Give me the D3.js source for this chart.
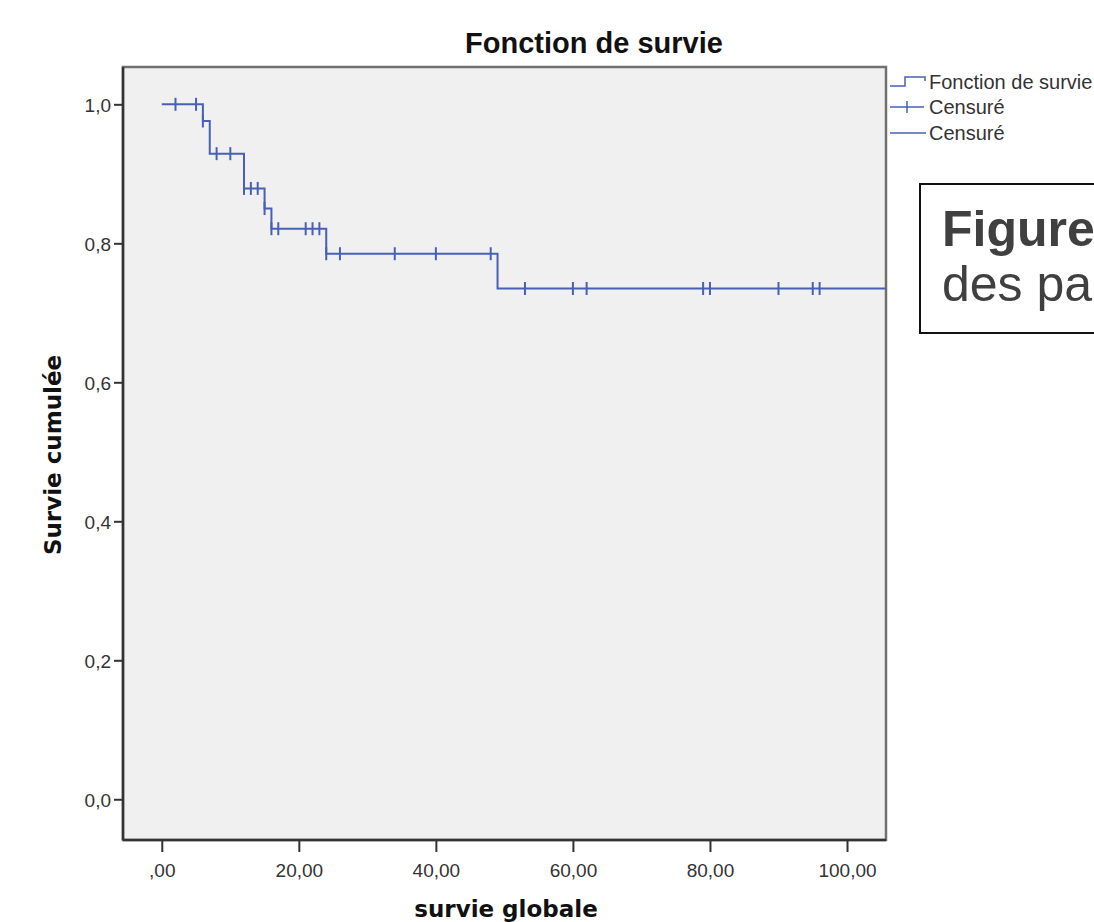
<!DOCTYPE html>
<html>
<head>
<meta charset="utf-8">
<script src="https://cdn.jsdelivr.net/npm/d3@7"></script>
<style>
	body{margin:0;background:#fff;}
	svg{display:block;}
	.tick-label{font-family:"Liberation Sans",Arial,sans-serif;font-size:19px;fill:#333;}
	.axis-title{font-family:"DejaVu Sans",Verdana,sans-serif;font-size:23px;font-weight:bold;fill:#111;}
</style>
</head>
<body>
<svg id="chart" width="1094" height="922"></svg>
<script>
// Kaplan-Meier steps
var eventTimes = [0, 6, 7, 12, 15, 16, 24, 49];
var survival = [1.0, 0.976, 0.929, 0.879, 0.850, 0.821, 0.785, 0.735];
// censored observations (time)
var censorTimes = [2, 5, 6, 8, 10, 12, 13, 14, 15, 16, 17, 21, 22, 23, 24, 26, 34, 40, 48, 53, 60, 62, 79, 80, 90, 95, 96];
// axes
var xTicks = [0, 20, 40, 60, 80, 100];
var xTickLabels = [',00', '20,00', '40,00', '60,00', '80,00', '100,00'];
var yTicks = [0, 0.2, 0.4, 0.6, 0.8, 1.0];
var yTickLabels = ['0,0', '0,2', '0,4', '0,6', '0,8', '1,0'];
var legendLabels = ['Fonction de survie', 'Censuré', 'Censuré'];

var blue = '#4760b4';
var plot = {left: 123, right: 886, top: 67, bottom: 840};

var svg = d3.select('#chart');

var x = d3.scaleLinear().domain([-5.66, 105.69]).range([plot.left, plot.right]);
var y = d3.scaleLinear().domain([-0.0586, 1.0537]).range([plot.bottom, plot.top]);

//survival level at a given time (step function)
function survivalAt(t){
	var s = survival[0];
	eventTimes.forEach(function(e, i){
		if(e <= t) s = survival[i];
	});
	return s;
}

//title
svg.append('text')
	.attr('x', 594).attr('y', 53)
	.attr('text-anchor', 'middle')
	.style('font-family', '"Liberation Sans",Arial,sans-serif')
	.style('font-size', '29px').style('font-weight', 'bold').style('fill', '#111')
	.text('Fonction de survie');

//plot background
svg.append('rect')
	.attr('x', plot.left).attr('y', plot.top)
	.attr('width', plot.right - plot.left).attr('height', plot.bottom - plot.top)
	.attr('fill', '#f0f0f0')
	.attr('stroke', '#707070').attr('stroke-width', 2.5);

svg.append('defs').append('clipPath').attr('id', 'clip')
	.append('rect')
	.attr('x', plot.left).attr('y', plot.top)
	.attr('width', plot.right - plot.left).attr('height', plot.bottom - plot.top);

//axes
var xAxis = d3.axisBottom(x).tickValues(xTicks)
	.tickFormat(function(d, i){ return xTickLabels[i]; })
	.tickSize(12).tickPadding(9);
var yAxis = d3.axisLeft(y).tickValues(yTicks)
	.tickFormat(function(d, i){ return yTickLabels[i]; })
	.tickSize(9).tickPadding(3);

var gx = svg.append('g').attr('transform', 'translate(0,' + plot.bottom + ')').call(xAxis);
var gy = svg.append('g').attr('transform', 'translate(' + plot.left + ',0)').call(yAxis);
[gx, gy].forEach(function(g){
	g.select('.domain').attr('stroke', '#333').attr('stroke-width', 2.5);
	g.selectAll('.tick line').attr('stroke', '#333').attr('stroke-width', 2);
	g.selectAll('.tick text').attr('class', 'tick-label').attr('fill', null);
});
gx.select('.domain').attr('d', 'M' + plot.left + ',0H' + plot.right);
gy.select('.domain').attr('d', 'M0,' + plot.top + 'V' + plot.bottom);
gx.selectAll('.tick text').attr('dy', '0.85em');
gy.selectAll('.tick text').attr('dy', '0.36em');

//survival curve
var pts = eventTimes.map(function(t, i){ return [t, survival[i]]; });
pts.push([x.domain()[1], survival[survival.length - 1]]);

var line = d3.line()
	.x(function(d){ return x(d[0]); })
	.y(function(d){ return y(d[1]); })
	.curve(d3.curveStepAfter);

var curve = svg.append('g').attr('clip-path', 'url(#clip)');
curve.append('path')
	.datum(pts)
	.attr('d', line)
	.attr('fill', 'none')
	.attr('stroke', blue).attr('stroke-width', 2);

//censor marks
curve.selectAll('line.censor')
	.data(censorTimes)
	.enter().append('line')
	.attr('class', 'censor')
	.attr('x1', function(d){ return x(d); })
	.attr('x2', function(d){ return x(d); })
	.attr('y1', function(d){ return y(survivalAt(d)) - 6.5; })
	.attr('y2', function(d){ return y(survivalAt(d)) + 6.5; })
	.attr('stroke', blue).attr('stroke-width', 2);

//axis titles
svg.append('text')
	.attr('class', 'axis-title')
	.attr('x', 506).attr('y', 917)
	.attr('text-anchor', 'middle')
	.text('survie globale');
svg.append('text')
	.attr('class', 'axis-title')
	.attr('transform', 'translate(61,455) rotate(-90)')
	.attr('text-anchor', 'middle')
	.text('Survie cumulée');

//legend
var lg = svg.append('g').attr('transform', 'translate(890,0)');
var legendY = [82, 107, 133];
lg.append('path')
	.attr('d', 'M0,' + (legendY[0] + 4) + 'H15V' + (legendY[0] - 5) + 'H35V' + (legendY[0] - 1))
	.attr('fill', 'none').attr('stroke', blue).attr('stroke-width', 1.5);
lg.append('path')
	.attr('d', 'M0,' + legendY[1] + 'H34M17,' + (legendY[1] - 6) + 'V' + (legendY[1] + 6))
	.attr('fill', 'none').attr('stroke', blue).attr('stroke-width', 1.5);
lg.append('path')
	.attr('d', 'M0,' + legendY[2] + 'H36')
	.attr('fill', 'none').attr('stroke', blue).attr('stroke-width', 1.5);
lg.selectAll('text.leg')
	.data(legendLabels)
	.enter().append('text')
	.attr('class', 'tick-label leg')
	.attr('x', 39)
	.attr('y', function(d, i){ return legendY[i]; })
	.attr('dy', '0.36em')
	.style('font-size', '20px')
	.text(function(d){ return d; });

//overlapping caption box (cut by the right edge)
var box = svg.append('g');
box.append('rect')
	.attr('x', 920).attr('y', 184)
	.attr('width', 200).attr('height', 149)
	.attr('fill', '#fff').attr('stroke', '#111').attr('stroke-width', 2);
box.append('text')
	.attr('x', 942).attr('y', 246)
	.style('font-family', '"Liberation Sans",Arial,sans-serif')
	.style('font-size', '50px').style('font-weight', 'bold').style('fill', '#404040')
	.text('Figure');
box.append('text')
	.attr('x', 942).attr('y', 301)
	.style('font-family', '"Liberation Sans",Arial,sans-serif')
	.style('font-size', '50px').style('fill', '#404040')
	.text('des pa');
</script>
</body>
</html>
